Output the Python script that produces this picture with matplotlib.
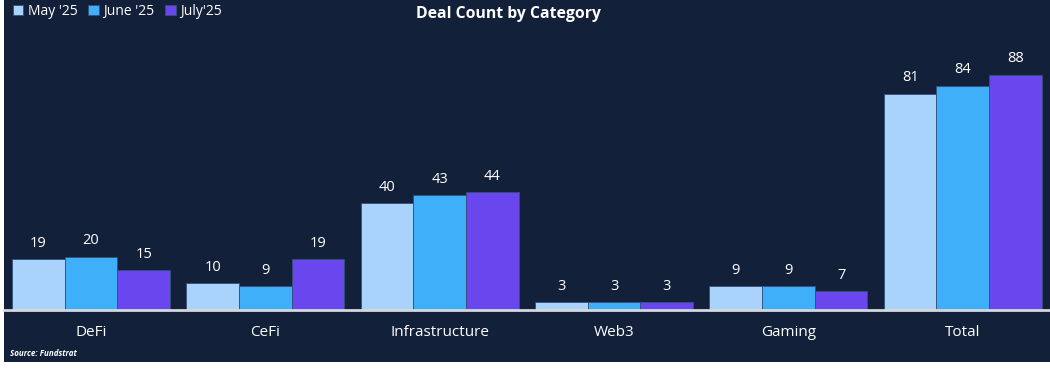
import matplotlib
matplotlib.use("Agg")
import matplotlib.pyplot as plt
import numpy as np
from matplotlib.patches import Rectangle

categories = ["DeFi", "CeFi", "Infrastructure", "Web3", "Gaming", "Total"]
series_names = ["May '25", "June '25", "July'25"]
may = [19, 10, 40, 3, 9, 81]
june = [20, 9, 43, 3, 9, 84]
july = [15, 19, 44, 3, 7, 88]
series = [may, june, july]
colors = ["#a9d3fb", "#3eaff8", "#6a46ef"]
bg = "#13203a"

plt.rcParams['font.family'] = ['Open Sans', 'DejaVu Sans']

W, H = 1050, 370
fig = plt.figure(figsize=(W / 100, H / 100), dpi=100, facecolor="white")
fig.patches.append(Rectangle((4 / W, 8 / H), 1 - 4 / W, 1 - 8 / H, transform=fig.transFigure,
                             facecolor=bg, edgecolor="none", zorder=-10))

ax = fig.add_axes([3.8 / W, 60 / H, 1 - 3.8 / W, 310 / H])
ax.set_zorder(5)
ax.set_facecolor("none")
x = np.arange(len(categories))
bw = 0.302
for i, (vals, col) in enumerate(zip(series, colors)):
    pos = x + (i - 1) * bw
    ax.bar(pos, vals, width=bw, color=col, edgecolor="#34507a", linewidth=0.6,
           label=series_names[i], zorder=2)
    for p, v in zip(pos, vals):
        ax.annotate(str(v), (p, v), xytext=(0, 6), textcoords="offset points",
                    ha="center", va="bottom", color="white", fontsize=10.5)

ax.set_xlim(-0.5, 5.5)
ax.set_ylim(0, 116)
ax.set_yticks([])
ax.set_xticks(x)
ax.set_xticklabels(categories, color="white", fontsize=11)
ax.tick_params(axis="x", length=0, pad=11)
for s in ["top", "right", "left"]:
    ax.spines[s].set_visible(False)
ax.spines["bottom"].set_color("#d4d8de")
ax.spines["bottom"].set_linewidth(2)

fig.text(509 / W, 1 - 14 / H, "Deal Count by Category", ha="center", va="center",
         color="white", fontsize=11.3, fontweight="bold")

ax.legend(loc="upper left", bbox_to_anchor=(13 / W, 1 - 4 / H), bbox_transform=fig.transFigure,
          ncol=3, frameon=False, fontsize=10, labelcolor="white",
          handlelength=0.75, handleheight=0.75, handletextpad=0.3, columnspacing=0.8,
          borderaxespad=0, borderpad=0)

fig.text(10 / W, 1 - 354 / H, "Source: Fundstrat", ha="left", va="center",
         color="white", fontsize=5.8, fontweight="bold", style="italic")

fig.savefig("out.png", dpi=100, facecolor="white")
